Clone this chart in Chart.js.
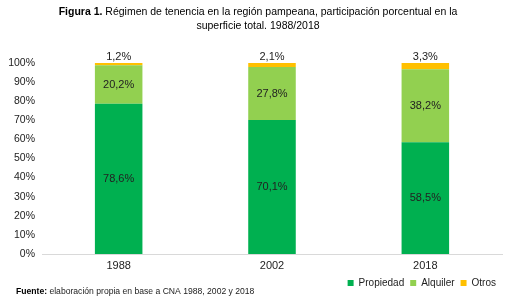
<!DOCTYPE html>
<html>
<head>
<meta charset="utf-8">
<script src="https://cdn.jsdelivr.net/npm/chart.js@4.4.1/dist/chart.umd.min.js"></script>
<style>
    html, body { margin: 0; padding: 0; background: #fff; }
    #wrap { position: relative; width: 512px; height: 302px; }
</style>
</head>
<body>
<div id="wrap"><canvas id="tenencia-chart" width="512" height="302"></canvas></div>
<script>
const years = ['1988', '2002', '2018'];
const propiedad = [78.6, 70.1, 58.5];
const alquiler = [20.2, 27.8, 38.2];
const otros = [1.2, 2.1, 3.3];
const seriesNames = ['Propiedad', 'Alquiler', 'Otros'];
const yTicks = [0, 10, 20, 30, 40, 50, 60, 70, 80, 90, 100];

const FONT = 'Arial, "Liberation Sans", sans-serif';

function pct(v) {
    return v.toFixed(1).replace('.', ',') + '%';
}

// title, footer and bar value labels
const textPlugin = {
    id: 'textPlugin',
    afterDraw(chart) {
        const ctx = chart.ctx;
        ctx.save();
        ctx.fillStyle = '#000';
        ctx.textBaseline = 'middle';

        // title, first line mixes bold and regular
        ctx.font = 'bold 10.5px ' + FONT;
        const boldPart = 'Figura 1.';
        const restPart = ' Régimen de tenencia en la región pampeana, participación porcentual en la';
        const wBold = ctx.measureText(boldPart).width;
        ctx.font = '10.5px ' + FONT;
        const wRest = ctx.measureText(restPart).width;
        let x = 258 - (wBold + wRest) / 2;
        ctx.textAlign = 'left';
        ctx.font = 'bold 10.5px ' + FONT;
        ctx.fillText(boldPart, x, 12);
        ctx.font = '10.5px ' + FONT;
        ctx.fillText(restPart, x + wBold, 12);
        ctx.textAlign = 'center';
        ctx.fillText('superficie total. 1988/2018', 258, 26);

        // footer
        ctx.textAlign = 'left';
        ctx.font = 'bold 8.6px ' + FONT;
        ctx.fillText('Fuente:', 16, 292);
        const wf = ctx.measureText('Fuente: ').width;
        ctx.font = '8.6px ' + FONT;
        ctx.fillStyle = '#222';
        ctx.fillText('elaboración propia en base a CNA 1988, 2002 y 2018', 16 + wf, 292);

        // bar values
        ctx.font = '11px ' + FONT;
        ctx.fillStyle = '#222';
        ctx.textAlign = 'center';
        chart.data.datasets.forEach((ds, i) => {
            const meta = chart.getDatasetMeta(i);
            meta.data.forEach((bar, j) => {
                const p = bar.getProps(['x', 'y', 'base'], true);
                const label = pct(ds.data[j]);
                if (i < 2) {
                    ctx.textBaseline = 'middle';
                    ctx.fillText(label, p.x, (p.y + p.base) / 2);
                } else {
                    ctx.textBaseline = 'bottom';
                    ctx.fillText(label, p.x, p.y - 1);
                }
            });
        });
        ctx.restore();
    }
};

const colors = ['#00B050', '#92D050', '#FFC000'];

new Chart(document.getElementById('tenencia-chart'), {
    type: 'bar',
    data: {
        labels: years,
        datasets: [propiedad, alquiler, otros].map((d, i) => ({
            label: seriesNames[i],
            data: d,
            backgroundColor: colors[i],
            barPercentage: 0.62,
            categoryPercentage: 0.5
        }))
    },
    options: {
        responsive: false,
        animation: false,
        layout: { padding: { top: 63, right: 10, left: 0, bottom: 4 } },
        plugins: {
            title: { display: false },
            tooltip: { enabled: false },
            legend: {
                position: 'bottom',
                align: 'end',
                labels: {
                    boxWidth: 6,
                    boxHeight: 6,
                    padding: 6,
                    color: '#222',
                    font: { size: 10, family: FONT }
                }
            }
        },
        scales: {
            x: {
                stacked: true,
                grid: { display: false, drawTicks: false },
                border: { color: '#d9d9d9', width: 1 },
                afterFit(scale) {
                    scale.height = 18;
                },
                ticks: { color: '#222', font: { size: 11, family: FONT }, padding: 5 }
            },
            y: {
                stacked: true,
                min: 0,
                max: 100,
                grid: { display: false, drawTicks: false },
                border: { display: false },
                afterBuildTicks(scale) {
                    scale.ticks = yTicks.map(v => ({ value: v }));
                },
                afterFit(scale) {
                    scale.width = 42;
                },
                ticks: {
                    color: '#222',
                    padding: 7,
                    font: { size: 10.5, family: FONT },
                    callback: v => v + '%'
                }
            }
        }
    },
    plugins: [textPlugin]
});
</script>
</body>
</html>
